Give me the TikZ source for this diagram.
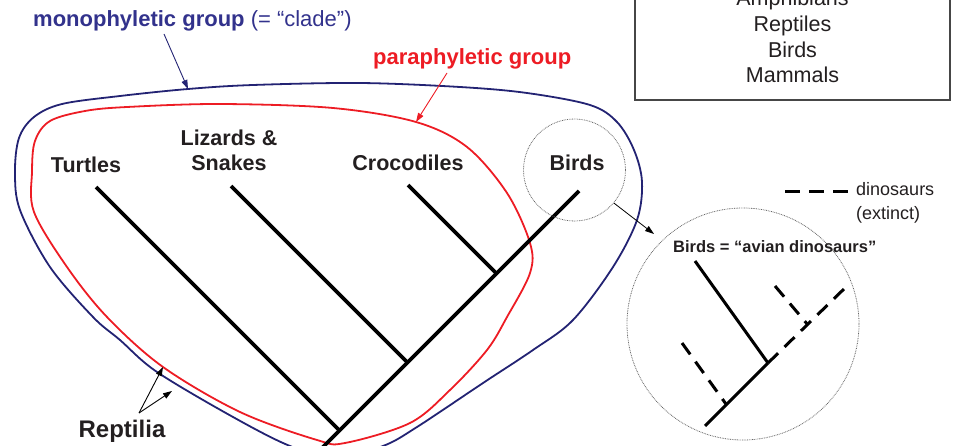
\documentclass[tikz,border=0pt]{standalone}
\usepackage{fontspec}
\setmainfont{Liberation Sans}
\usetikzlibrary{arrows.meta}
\definecolor{navy}{RGB}{35,35,115}
\definecolor{navytext}{RGB}{50,50,140}
\definecolor{redc}{RGB}{237,28,36}
\definecolor{txt}{RGB}{35,31,32}
\definecolor{boxgray}{RGB}{70,70,70}
\begin{document}
\begin{tikzpicture}[x=1pt,y=-1pt,
  lbl/.style={font=\fontsize{21.5}{25}\selectfont\bfseries, text=txt, inner sep=0pt, align=center},
  boxtxt/.style={font=\fontsize{21.5}{25}\selectfont, text=txt, inner sep=0pt, anchor=base},
  branch/.style={line width=3.6pt, black},
  ibranch/.style={line width=3pt, black},
  extinct/.style={ibranch, dash pattern=on 14pt off 9pt},
  ptr/.style={-{Triangle[length=9pt,width=6pt]}, line width=0.9pt},
  dotcirc/.style={circle, draw=black!60, line width=0.8pt, dash pattern=on 0.8pt off 0.9pt, inner sep=0pt},
  outline/.style={line width=1.8pt}
]
\useasboundingbox (0,0) rectangle (960,446);

% ---- group outlines ----
\draw[outline, navy] plot[smooth cycle, tension=0.55] coordinates {
 (15,172) (19,138) (34,117) (62,104) (120,96) (188,89) (253,85) (360,83) (460,87) (527,93)
 (590,105) (617,122) (634,150) (642,182) (637,220) (613,267) (573,320) (533,350) (483,383)
 (417,427) (383,446) (335,458) (290,446) (233,417) (157,372) (120,340) (93,317)
 (50,267) (20,210)};
\draw[outline, redc] plot[smooth cycle, tension=0.55] coordinates {
 (32,172) (35,141) (50,121) (85,111) (127,107) (220,104) (333,108) (416,122) (467,147)
 (507,193) (530,243) (530,273) (507,317) (487,350) (450,390) (410,423) (345,443)
 (317,440) (240,412) (163,367) (107,317) (67,267) (34,212)};

% ---- main tree ----
\coordinate (root) at (318,452);
\coordinate (tB) at (579,191);
\coordinate (tT) at (96,187);   \coordinate (jT) at (339.5,430.5);
\coordinate (tL) at (231,186);  \coordinate (jL) at (407.5,362.5);
\coordinate (tC) at (408,185);  \coordinate (jC) at (496.5,273.5);
\draw[branch] (root) -- (tB);
\draw[branch] (tT) -- (jT);
\draw[branch] (tL) -- (jL);
\draw[branch] (tC) -- (jC);

% ---- taxon labels ----
\node[lbl] (turtles) at (86,165) {Turtles};
\node[lbl] (lizards) at (229,150.5) {Lizards \&\\Snakes};
\node[lbl] (crocs) at (408,163) {Crocodiles};
\node[lbl] (birds) at (577,163) {Birds};

% ---- group labels ----
\node[anchor=base west, inner sep=0pt, text=navytext, font=\fontsize{22}{26}\selectfont] (mono) at (33,27)
  {\textbf{monophyletic group} (= “clade”)};
\node[anchor=base west, inner sep=0pt, text=redc, font=\fontsize{22}{26}\selectfont\bfseries] (para) at (373,65)
  {paraphyletic group};
\coordinate (monoA) at (164,34);  \coordinate (monoB) at (188,89);
\coordinate (paraA) at (447,73);  \coordinate (paraB) at (416,122);
\draw[ptr, navy] (monoA) -- (monoB);
\draw[ptr, redc] (paraA) -- (paraB);

\node[anchor=base, inner sep=0pt, text=txt, font=\fontsize{24}{28}\selectfont\bfseries] (rept) at (122,437) {Reptilia};
\coordinate (rA) at (139,413);
\coordinate (rRed) at (163,367);
\coordinate (rBlue) at (172,391);
\draw[ptr] (rA) -- (rRed);
\draw[ptr] (rA) -- (rBlue);

% ---- birds magnifier ----
\node[dotcirc, minimum size=102pt] (bcirc) at (574.5,170) {};
\node[dotcirc, minimum size=232pt] (zcirc) at (743,324) {};
\coordinate (ztip) at (654,234);
\draw[ptr, line width=0.8pt] (bcirc.-40) -- (ztip);

\node[anchor=base west, inner sep=0pt, text=txt, font=\fontsize{16.5}{19}\selectfont\bfseries] (avian) at (673,252)
  {Birds = “avian dinosaurs”};

% inner tree
\coordinate (iroot) at (705,426);
\coordinate (ij) at (768,363);
\coordinate (itip) at (847,286);
\coordinate (ibird) at (695,261);
\coordinate (idl) at (682,343);  \coordinate (ijl) at (726.4,404.6);
\coordinate (idu) at (775,286);  \coordinate (iju) at (808,325);
\draw[ibranch] (iroot) -- (ij);
\draw[ibranch] (ibird) -- (ij);
\draw[extinct] (ij) -- (itip);
\draw[extinct] (idl) -- (ijl);
\draw[extinct] (idu) -- (iju);

% legend
\coordinate (legA) at (785,192);
\coordinate (legB) at (848,192);
\draw[extinct, dash pattern=on 15pt off 9pt] (legA) -- (legB);
\node[anchor=base west, inner sep=0pt, text=txt, font=\fontsize{18}{21}\selectfont] (dino) at (856,196) {dinosaurs};
\node[anchor=base west, inner sep=0pt, text=txt, font=\fontsize{18}{21}\selectfont] (ext) at (856,219.5) {(extinct)};

% ---- top-right box ----
\node[draw=boxgray, line width=1.3pt, minimum width=315pt, minimum height=115pt, inner sep=0pt] (box) at (792.5,42.5) {};
\node[boxtxt] (amph) at (792.5,6) {Amphibians};
\node[boxtxt] (rep) at (792.5,32) {Reptiles};
\node[boxtxt] (bir) at (792.5,57.5) {Birds};
\node[boxtxt] (mam) at (792.5,83) {Mammals};
\end{tikzpicture}
\end{document}
